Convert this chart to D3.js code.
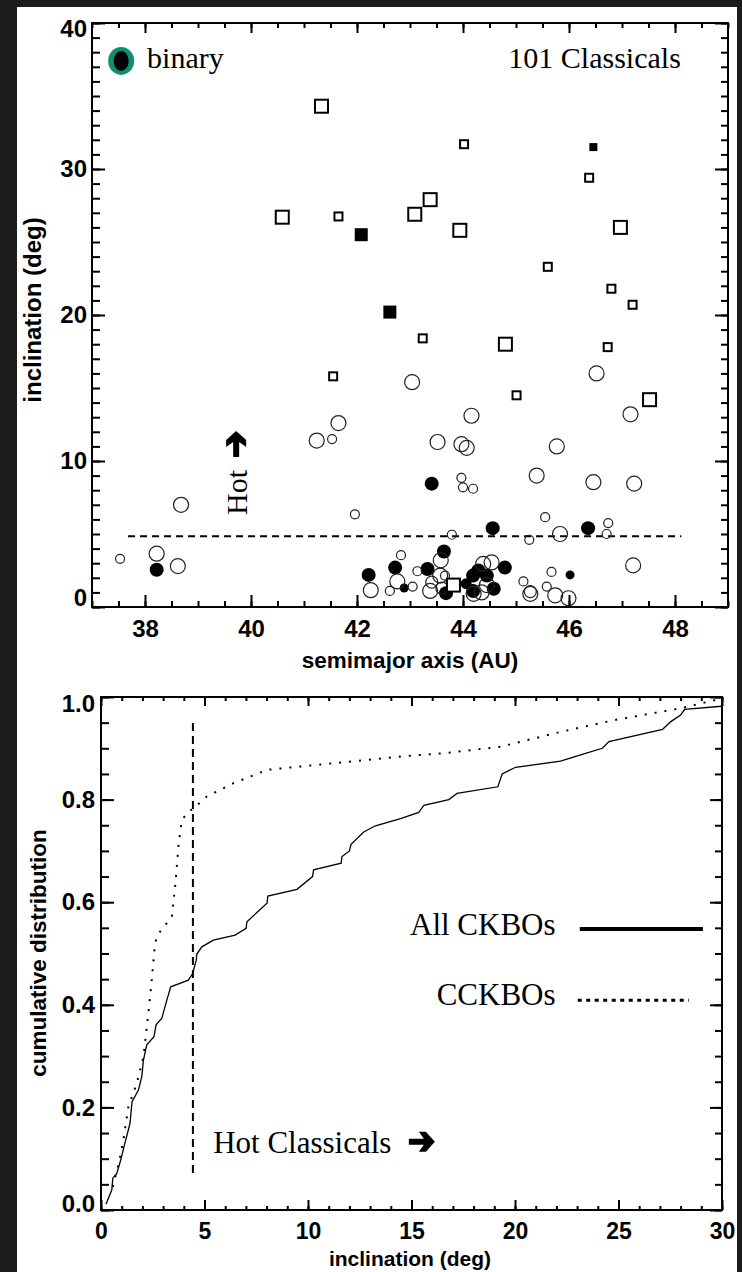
<!DOCTYPE html>
<html>
<head>
<meta charset="utf-8">
<script src="https://cdn.jsdelivr.net/npm/d3@7"></script>
<style>
  body { margin: 0; background: #1c1c1c; }
  svg { display: block; }
</style>
</head>
<body>
<svg id="fig" width="742" height="1272"></svg>
<script>
// ---- data: classical KBOs, semimajor axis (AU) / inclination (deg) / size class
const openSquares = [
  {a: 41.33, i: 34.3, m: "L"}, {a: 40.59, i: 26.7, m: "L"}, {a: 41.65, i: 26.75, m: "S"},
  {a: 44.02, i: 31.7, m: "S"}, {a: 46.38, i: 29.4, m: "S"}, {a: 43.38, i: 27.9, m: "L"},
  {a: 43.09, i: 26.9, m: "L"}, {a: 43.94, i: 25.8, m: "L"}, {a: 46.97, i: 26.0, m: "L"},
  {a: 45.60, i: 23.3, m: "S"}, {a: 46.80, i: 21.8, m: "S"}, {a: 47.20, i: 20.7, m: "S"},
  {a: 43.24, i: 18.4, m: "S"}, {a: 44.80, i: 18.0, m: "L"}, {a: 46.73, i: 17.8, m: "S"},
  {a: 41.55, i: 15.8, m: "S"}, {a: 45.01, i: 14.5, m: "S"}, {a: 47.52, i: 14.2, m: "L"},
  {a: 43.82, i: 1.5, m: "L"}
];
const filledSquares = [
  {a: 42.08, i: 25.5, m: "L"}, {a: 42.62, i: 20.2, m: "L"}, {a: 46.46, i: 31.5, m: "S"}
];
const openCircles = [
  {a: 43.04, i: 15.4, m: "L"}, {a: 46.52, i: 16.0, m: "L"}, {a: 47.16, i: 13.2, m: "L"},
  {a: 41.65, i: 12.6, m: "L"}, {a: 44.16, i: 13.1, m: "L"}, {a: 41.24, i: 11.4, m: "L"},
  {a: 41.53, i: 11.5, m: "S"}, {a: 43.52, i: 11.3, m: "L"}, {a: 43.97, i: 11.15, m: "L"},
  {a: 44.07, i: 10.9, m: "L"}, {a: 45.77, i: 11.0, m: "L"}, {a: 45.39, i: 9.0, m: "L"},
  {a: 46.46, i: 8.55, m: "L"}, {a: 47.23, i: 8.45, m: "L"}, {a: 43.97, i: 8.85, m: "S"},
  {a: 44.00, i: 8.2, m: "S"}, {a: 44.19, i: 8.1, m: "S"}, {a: 38.68, i: 7.0, m: "L"},
  {a: 41.96, i: 6.35, m: "S"}, {a: 45.55, i: 6.15, m: "S"}, {a: 46.74, i: 5.75, m: "S"},
  {a: 46.71, i: 5.0, m: "S"}, {a: 45.83, i: 5.0, m: "L"}, {a: 43.79, i: 4.95, m: "S"},
  {a: 45.25, i: 4.6, m: "S"},
  {a: 37.53, i: 3.3, m: "S"}, {a: 38.22, i: 3.65, m: "L"}, {a: 38.62, i: 2.8, m: "L"},
  {a: 47.21, i: 2.85, m: "L"}, {a: 42.26, i: 1.15, m: "L"}, {a: 42.62, i: 1.1, m: "S"},
  {a: 42.76, i: 1.75, m: "L"}, {a: 42.83, i: 3.55, m: "S"}, {a: 43.05, i: 1.4, m: "S"},
  {a: 43.14, i: 2.45, m: "S"}, {a: 43.58, i: 3.2, m: "L"}, {a: 43.38, i: 1.1, m: "L"},
  {a: 43.41, i: 1.7, m: "M"}, {a: 43.57, i: 2.15, m: "L"}, {a: 43.66, i: 2.15, m: "S"},
  {a: 43.60, i: 1.3, m: "M"}, {a: 44.38, i: 2.95, m: "L"}, {a: 44.54, i: 3.05, m: "L"},
  {a: 44.35, i: 1.0, m: "L"}, {a: 44.45, i: 1.5, m: "L"}, {a: 44.20, i: 0.9, m: "L"},
  {a: 45.14, i: 1.75, m: "S"}, {a: 45.27, i: 0.9, m: "L"}, {a: 45.27, i: 1.05, m: "M"},
  {a: 45.67, i: 2.4, m: "S"}, {a: 45.58, i: 1.4, m: "S"}, {a: 45.74, i: 0.8, m: "L"},
  {a: 45.99, i: 0.6, m: "L"}
];
const filledCircles = [
  {a: 38.22, i: 2.55, m: "L"}, {a: 43.41, i: 8.45, m: "L"}, {a: 44.56, i: 5.4, m: "L"},
  {a: 46.36, i: 5.4, m: "L"}, {a: 42.22, i: 2.2, m: "L"}, {a: 42.72, i: 2.7, m: "L"},
  {a: 42.89, i: 1.3, m: "S"}, {a: 43.33, i: 2.6, m: "L"}, {a: 43.64, i: 3.8, m: "L"},
  {a: 43.68, i: 0.95, m: "L"}, {a: 44.06, i: 1.6, m: "M"}, {a: 44.19, i: 2.15, m: "L"},
  {a: 44.29, i: 2.5, m: "L"}, {a: 44.45, i: 2.15, m: "L"}, {a: 44.19, i: 1.1, m: "L"},
  {a: 44.58, i: 1.25, m: "L"}, {a: 44.79, i: 2.7, m: "L"}, {a: 46.02, i: 2.2, m: "S"}
];
const hotCutTop = 4.85;          // dashed limit in the scatter panel (deg)
const hotCutSpan = [37.68, 48.12];

// ---- data: cumulative inclination distributions [inclination, fraction]
const allCkbos = [
  [0.24, 0.011], [0.52, 0.039], [0.57, 0.062], [0.76, 0.071], [0.95, 0.097], [1.11, 0.123],
  [1.32, 0.156], [1.40, 0.169], [1.50, 0.211], [1.81, 0.234], [1.97, 0.26], [2.05, 0.292],
  [2.21, 0.322], [2.56, 0.338], [2.66, 0.361], [2.94, 0.374], [3.18, 0.409], [3.37, 0.435],
  [4.22, 0.448], [4.43, 0.461], [4.60, 0.487], [4.63, 0.499], [4.87, 0.513], [5.43, 0.526],
  [6.48, 0.536], [7.01, 0.549], [7.05, 0.562], [8.02, 0.598], [8.06, 0.612], [9.47, 0.625],
  [10.22, 0.650], [10.27, 0.663], [11.6, 0.676], [11.64, 0.689], [12.0, 0.70], [12.08, 0.713],
  [12.69, 0.737], [13.26, 0.749], [14.47, 0.763], [15.35, 0.775], [15.6, 0.789], [16.8, 0.80],
  [17.2, 0.812], [19.17, 0.825], [19.38, 0.85], [20.03, 0.863], [22.2, 0.875], [23.33, 0.889],
  [24.22, 0.90], [24.54, 0.913], [27.13, 0.937], [27.53, 0.952], [28.0, 0.965], [28.2, 0.976],
  [29.98, 0.982]
];
const cckbos = [
  [0.57, 0.045], [0.89, 0.097], [1.08, 0.136], [1.32, 0.201], [1.73, 0.247], [2.05, 0.299],
  [2.29, 0.383], [2.45, 0.448], [2.50, 0.47], [2.61, 0.52], [2.73, 0.536], [3.42, 0.572],
  [3.58, 0.63], [3.74, 0.708], [3.90, 0.76], [4.22, 0.776], [4.47, 0.783], [5.11, 0.806],
  [6.40, 0.832], [8.02, 0.858], [11.24, 0.871], [14.47, 0.884], [16.72, 0.891], [19.3, 0.903],
  [20.6, 0.916], [22.2, 0.932], [24.8, 0.955], [28.0, 0.978], [29.98, 0.997]
];
const hotCutCum = 4.44;
const hotCutCumSpan = [0.072, 0.95];

// ---- tick values
const aMajor = [38, 40, 42, 44, 46, 48];
const aMinor = d3.range(37, 49.01, 0.5);
const incMajor = [0, 10, 20, 30, 40];
const incMinor = d3.range(0, 40.01, 1);
const cumXMajor = [0, 5, 10, 15, 20, 25, 30];
const cumXMinor = d3.range(0, 30.01, 1);
const cumYMajor = [0, 0.2, 0.4, 0.6, 0.8, 1.0];
const cumYMinor = d3.range(0, 1.001, 0.05);

const SANS = "'Liberation Sans', Arial, Helvetica, sans-serif";
const SERIF = "'Liberation Serif', 'Times New Roman', serif";

const svg = d3.select("#fig");
svg.append("rect").attr("width", 742).attr("height", 1272).attr("fill", "#1c1c1c");
svg.append("rect").attr("x", 17).attr("y", 7).attr("width", 720).attr("height", 1265).attr("fill", "#fff");

// IDL style box with ticks on all four sides
function frame(g, x, y, o) {
  const [x0, x1] = x.range();
  const [y0, y1] = y.range();
  const ax = (axis, tx, ty) => g.append("g").attr("transform", `translate(${tx},${ty})`).call(axis);
  const styleTicks = (sel, size) => {
    sel.select(".domain").remove();
    sel.selectAll(".tick line").attr("stroke", "#000").attr("stroke-width", 2);
    sel.selectAll("text").attr("fill", "#000")
      .style("font-family", SANS).style("font-weight", "bold").style("font-size", size + "px");
  };
  // bottom
  ax(d3.axisBottom(x).tickValues(o.xMinor).tickSize(-o.bMin).tickFormat(""), 0, y0).call(styleTicks);
  ax(d3.axisBottom(x).tickValues(o.xMajor).tickSize(-o.bMaj).tickPadding(o.xPad).tickFormat(o.xFmt), 0, y0)
    .call(styleTicks, o.xFont);
  // top
  ax(d3.axisTop(x).tickValues(o.xMinor).tickSize(-o.tMin).tickFormat(""), 0, y1).call(styleTicks);
  ax(d3.axisTop(x).tickValues(o.xMajor).tickSize(-o.tMaj).tickFormat(""), 0, y1).call(styleTicks);
  // left
  ax(d3.axisLeft(y).tickValues(o.yMinor).tickSize(-o.lMin).tickFormat(""), x0, 0).call(styleTicks);
  const ly = ax(d3.axisLeft(y).tickValues(o.yMajor).tickSize(-o.lMaj).tickPadding(o.yPad).tickFormat(o.yFmt), x0, 0)
    .call(styleTicks, o.yFont);
  // right
  ax(d3.axisRight(y).tickValues(o.yMinor).tickSize(-o.rMin).tickFormat(""), x1, 0).call(styleTicks);
  ax(d3.axisRight(y).tickValues(o.yMajor).tickSize(-o.rMaj).tickFormat(""), x1, 0).call(styleTicks);
  // end labels nudged inside like the original
  const yt = ly.selectAll("text").nodes();
  d3.select(yt[0]).attr("dy", o.yLowDy);
  d3.select(yt[yt.length - 1]).attr("dy", o.yTopDy);
  g.append("rect").attr("x", x0).attr("y", y1).attr("width", x1 - x0).attr("height", y0 - y1)
    .attr("fill", "none").attr("stroke", "#000").attr("stroke-width", 2);
}

// heavy arrow like the dingbat glyph, pointing right in local coords
function arrow(g, cx, cy, rot) {
  g.append("path")
    .attr("d", "M-13,-3L2,-3L-3,-10L4,-10L13,0L4,10L-3,10L2,3L-13,3Z")
    .attr("transform", `translate(${cx},${cy}) rotate(${rot})`)
    .attr("fill", "#000");
}

function title(g, tx, ty, rot, size, txt) {
  g.append("text").attr("transform", `translate(${tx},${ty}) rotate(${rot})`)
    .attr("text-anchor", "middle")
    .style("font-family", SANS).style("font-weight", "bold").style("font-size", size + "px")
    .text(txt);
}

// ================= top panel: inclination vs semimajor axis =================
const xA = d3.scaleLinear().domain([37, 49]).range([92, 728]);
const yI = d3.scaleLinear().domain([0, 40]).range([607, 23]);
const side = d3.scaleOrdinal().domain(["S", "L"]).range([8, 13]);
const rad = d3.scaleOrdinal().domain(["S", "M", "L"]).range([4.5, 6, 7.5]);
const radFilled = d3.scaleOrdinal().domain(["S", "M", "L"]).range([4.5, 5.5, 7]);

const gTop = svg.append("g");

gTop.append("line")
  .attr("x1", xA(hotCutSpan[0])).attr("x2", xA(hotCutSpan[1]))
  .attr("y1", yI(hotCutTop)).attr("y2", yI(hotCutTop))
  .attr("stroke", "#000").attr("stroke-width", 2).attr("stroke-dasharray", "7,5");

gTop.append("g").selectAll("circle").data(filledCircles).join("circle")
  .attr("cx", d => xA(d.a)).attr("cy", d => yI(d.i)).attr("r", d => radFilled(d.m))
  .attr("fill", "#000");

gTop.append("g").selectAll("circle").data(openCircles).join("circle")
  .attr("cx", d => xA(d.a)).attr("cy", d => yI(d.i)).attr("r", d => rad(d.m))
  .attr("fill", "none").attr("stroke", "#222").attr("stroke-width", 1.2);

gTop.append("g").selectAll("rect").data(openSquares).join("rect")
  .attr("x", d => xA(d.a) - side(d.m) / 2).attr("y", d => yI(d.i) - side(d.m) / 2)
  .attr("width", d => side(d.m)).attr("height", d => side(d.m))
  .attr("fill", "#fff").attr("stroke", "#000").attr("stroke-width", 2);

gTop.append("g").selectAll("rect").data(filledSquares).join("rect")
  .attr("x", d => xA(d.a) - side(d.m) / 2).attr("y", d => yI(d.i) - side(d.m) / 2)
  .attr("width", d => side(d.m)).attr("height", d => side(d.m))
  .attr("fill", "#000");

frame(gTop, xA, yI, {
  xMajor: aMajor, xMinor: aMinor, yMajor: incMajor, yMinor: incMinor,
  xFmt: d3.format("d"), yFmt: d3.format("d"), xFont: 24, yFont: 24,
  bMaj: 12, bMin: 6, tMaj: 10, tMin: 5, lMaj: 13, lMin: 8, rMaj: 13, rMin: 7,
  xPad: 13, yPad: 5, yLowDy: "-0.05em", yTopDy: "0.55em"
});

// legend + labels
gTop.append("ellipse").attr("cx", xA(37.55)).attr("cy", yI(37.4)).attr("rx", 13).attr("ry", 14)
  .attr("fill", "#0e8f6e");
gTop.append("ellipse").attr("cx", xA(37.55)).attr("cy", yI(37.4)).attr("rx", 7.5).attr("ry", 10)
  .attr("fill", "#000");
gTop.append("text").attr("x", xA(38.04)).attr("y", yI(36.9))
  .style("font-family", SERIF).style("font-size", "30px").text("binary");
gTop.append("text").attr("x", xA(48.11)).attr("y", yI(36.9)).attr("text-anchor", "end")
  .style("font-family", SERIF).style("font-size", "30px").text("101 Classicals");

gTop.append("text")
  .attr("transform", `translate(${xA(39.92)},${yI(6.3)}) rotate(-90)`)
  .style("font-family", SERIF).style("font-size", "30px").text("Hot");
arrow(gTop, xA(39.72), yI(11.16), -90);

title(gTop, 410, 668, 0, 22.5, "semimajor axis (AU)");
title(gTop, 41, 310, -90, 24, "inclination (deg)");

// ================= bottom panel: cumulative distribution =================
const xC = d3.scaleLinear().domain([0, 30]).range([101, 722]);
const yC = d3.scaleLinear().domain([0, 1]).range([1210, 697]);
const gBot = svg.append("g");
const line = d3.line().x(d => xC(d[0])).y(d => yC(d[1]));

gBot.append("line")
  .attr("x1", xC(hotCutCum)).attr("x2", xC(hotCutCum))
  .attr("y1", yC(hotCutCumSpan[0])).attr("y2", yC(hotCutCumSpan[1]))
  .attr("stroke", "#000").attr("stroke-width", 2).attr("stroke-dasharray", "8,5");

gBot.append("path").datum(allCkbos).attr("d", line)
  .attr("fill", "none").attr("stroke", "#000").attr("stroke-width", 1.3);
gBot.append("path").datum(cckbos).attr("d", line)
  .attr("fill", "none").attr("stroke", "#000").attr("stroke-width", 2)
  .attr("stroke-dasharray", "2,8");

frame(gBot, xC, yC, {
  xMajor: cumXMajor, xMinor: cumXMinor, yMajor: cumYMajor, yMinor: cumYMinor,
  xFmt: d3.format("d"), yFmt: d3.format(".1f"), xFont: 23, yFont: 24,
  bMaj: 10, bMin: 4, tMaj: 9, tMin: 4, lMaj: 13, lMin: 8, rMaj: 12, rMin: 7,
  xPad: 13, yPad: 6, yLowDy: "0.05em", yTopDy: "0.62em"
});

title(gBot, 410, 1266, 0, 21, "inclination (deg)");
title(gBot, 46, 953, -90, 22.5, "cumulative distribution");

// legend
gBot.append("text").attr("x", xC(21.96)).attr("y", yC(0.536)).attr("text-anchor", "end")
  .style("font-family", SERIF).style("font-size", "31px").text("All CKBOs");
gBot.append("line").attr("x1", xC(23.13)).attr("x2", xC(29.08))
  .attr("y1", yC(0.548)).attr("y2", yC(0.548)).attr("stroke", "#000").attr("stroke-width", 4);
gBot.append("text").attr("x", xC(21.96)).attr("y", yC(0.40)).attr("text-anchor", "end")
  .style("font-family", SERIF).style("font-size", "31px").text("CCKBOs");
gBot.append("line").attr("x1", xC(23.03)).attr("x2", xC(28.4))
  .attr("y1", yC(0.409)).attr("y2", yC(0.409)).attr("stroke", "#000").attr("stroke-width", 3)
  .attr("stroke-dasharray", "4,4.5");

gBot.append("text").attr("x", xC(5.42)).attr("y", yC(0.111))
  .style("font-family", SERIF).style("font-size", "31px").text("Hot Classicals");
arrow(gBot, xC(15.5), yC(0.133), 0);
</script>
</body>
</html>
